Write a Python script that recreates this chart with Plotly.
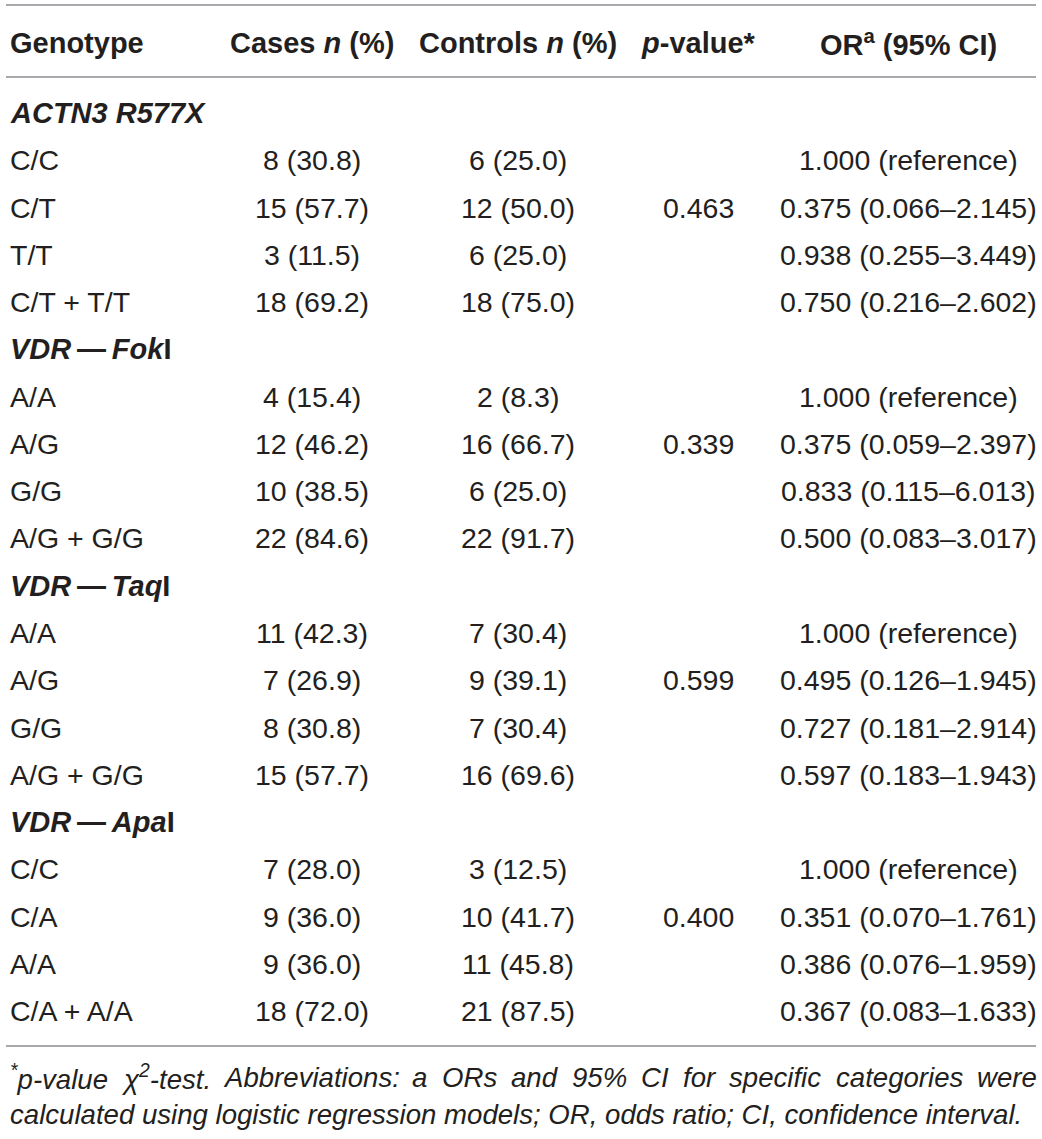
import plotly.graph_objects as go

# ---------------- data ----------------
header = ["Genotype", "Cases <i>n</i> (%)", "Controls <i>n</i> (%)",
          "<i>p</i>-value*", "OR<sup>a</sup> (95% CI)"]

group_labels = ["<b><i>ACTN3 R577X</i></b>",
                "<b><i>VDR</i>\u2009\u2014\u2009<i>Fok</i>I</b>",
                "<b><i>VDR</i>\u2009\u2014\u2009<i>Taq</i>I</b>",
                "<b><i>VDR</i>\u2009\u2014\u2009<i>Apa</i>I</b>"]

genotypes = [["C/C", "C/T", "T/T", "C/T + T/T"],
             ["A/A", "A/G", "G/G", "A/G + G/G"],
             ["A/A", "A/G", "G/G", "A/G + G/G"],
             ["C/C", "C/A", "A/A", "C/A + A/A"]]

cases_n = [[8, 15, 3, 18], [4, 12, 10, 22], [11, 7, 8, 15], [7, 9, 9, 18]]
cases_pct = [[30.8, 57.7, 11.5, 69.2], [15.4, 46.2, 38.5, 84.6],
             [42.3, 26.9, 30.8, 57.7], [28.0, 36.0, 36.0, 72.0]]
controls_n = [[6, 12, 6, 18], [2, 16, 6, 22], [7, 9, 7, 16], [3, 10, 11, 21]]
controls_pct = [[25.0, 50.0, 25.0, 75.0], [8.3, 66.7, 25.0, 91.7],
                [30.4, 39.1, 30.4, 69.6], [12.5, 41.7, 45.8, 87.5]]
p_values = [0.463, 0.339, 0.599, 0.400]
or_est = [[1.000, 0.375, 0.938, 0.750], [1.000, 0.375, 0.833, 0.500],
          [1.000, 0.495, 0.727, 0.597], [1.000, 0.351, 0.386, 0.367]]
ci_low = [[None, 0.066, 0.255, 0.216], [None, 0.059, 0.115, 0.083],
          [None, 0.126, 0.181, 0.183], [None, 0.070, 0.076, 0.083]]
ci_high = [[None, 2.145, 3.449, 2.602], [None, 2.397, 6.013, 3.017],
           [None, 1.945, 2.914, 1.943], [None, 1.761, 1.959, 1.633]]

# footnote words: (normal part, superscript part, trailing normal part)
footnote_line1_words = [("", "*", "p-value"), ("\u03c7", "2", "-test."),
                        ("Abbreviations:", "", ""), ("a", "", ""), ("ORs", "", ""),
                        ("and", "", ""), ("95%", "", ""), ("CI", "", ""),
                        ("for", "", ""), ("specific", "", ""),
                        ("categories", "", ""), ("were", "", "")]
footnote_line2 = "calculated using logistic regression models; OR, odds ratio; CI, confidence interval."

# ---------------- layout constants ----------------
W, H = 1042, 1139
TXT = "#231f20"
LINE = "#a7a9ac"
FONT = "Liberation Sans"
BODY = 28.5
HEAD = 29
FOOT = 27.6

col_x = [8, 312, 518, 698, 908]
col_anchor = ["left", "center", "center", "center", "center"]

header_y = 43
row0_y = 113
row_step = 47.27
foot_y = [1077, 1114]
line_x0, line_x1 = 6, 1036
just_x0, just_x1 = 8, 1035

# Arial / Liberation Sans advance widths (per 1000 em) used to justify line 1
ADV = {' ': 278, 'a': 556, 'b': 556, 'c': 500, 'd': 556, 'e': 556, 'f': 278,
       'g': 556, 'h': 556, 'i': 222, 'j': 222, 'k': 500, 'l': 222, 'm': 833,
       'n': 556, 'o': 556, 'p': 556, 'q': 556, 'r': 333, 's': 500, 't': 278,
       'u': 556, 'v': 500, 'w': 722, 'x': 500, 'y': 500, 'z': 500, 'A': 667,
       'B': 667, 'C': 722, 'I': 278, 'O': 778, 'R': 722, '%': 889, '.': 278,
       ':': 278, '-': 333, '*': 389, '\u03c7': 520}
for d in "0123456789":
    ADV[d] = 556

def text_w(s, size):
    return sum(ADV.get(ch, 556) for ch in s) / 1000.0 * size

fig = go.Figure()
ann = []

def add(x, y, text, anchor, size=BODY, bold=False):
    ann.append(dict(x=x, y=y, xref="x", yref="y", text=text, showarrow=False,
                    xanchor=anchor, yanchor="middle",
                    font=dict(family=FONT, size=size, color=TXT,
                              weight=700 if bold else 400)))

for c, h in enumerate(header):
    add(col_x[c], header_y, "<b>" + h + "</b>", col_anchor[c], HEAD, True)

r = 0
for g in range(len(group_labels)):
    y = row0_y + r * row_step
    add(col_x[0], y, group_labels[g], "left", HEAD, True)
    r += 1
    for i in range(len(genotypes[g])):
        y = row0_y + r * row_step
        add(col_x[0], y, genotypes[g][i], "left")
        add(col_x[1], y, f"{cases_n[g][i]} ({cases_pct[g][i]:.1f})", "center")
        add(col_x[2], y, f"{controls_n[g][i]} ({controls_pct[g][i]:.1f})", "center")
        if i == 1:
            add(col_x[3], y, f"{p_values[g]:.3f}", "center")
        if ci_low[g][i] is None:
            ort = f"{or_est[g][i]:.3f} (reference)"
        else:
            ort = f"{or_est[g][i]:.3f} ({ci_low[g][i]:.3f}\u2013{ci_high[g][i]:.3f})"
        add(col_x[4], y, ort, "center")
        r += 1

# footnote line 1: justified, one annotation per word
widths = [text_w(a, FOOT) + text_w(b, FOOT * 0.7) + text_w(c, FOOT)
          for a, b, c in footnote_line1_words]
gap = (just_x1 - just_x0 - sum(widths)) / (len(widths) - 1)
x = just_x0
for (a, b, c), wdt in zip(footnote_line1_words, widths):
    t = a + (f"<sup>{b}</sup>" if b else "") + c
    add(x, foot_y[0], "<i>" + t + "</i>", "left", FOOT)
    x += wdt + gap
add(just_x0, foot_y[1], "<i>" + footnote_line2 + "</i>", "left", FOOT)

shapes = []
for ly in [5, 77, 1046]:
    shapes.append(dict(type="line", xref="x", yref="y", x0=line_x0, x1=line_x1,
                       y0=ly, y1=ly, line=dict(color=LINE, width=2)))

fig.add_trace(go.Scatter(x=[0, W], y=[0, H], mode="markers",
                         marker=dict(opacity=0), hoverinfo="skip",
                         showlegend=False))

fig.update_layout(width=W, height=H, margin=dict(l=0, r=0, t=0, b=0),
                  paper_bgcolor="white", plot_bgcolor="white",
                  annotations=ann, shapes=shapes,
                  xaxis=dict(range=[0, W], visible=False, fixedrange=True),
                  yaxis=dict(range=[H, 0], visible=False, fixedrange=True),
                  showlegend=False, hovermode=False)

fig.write_html("out.html", config={"displayModeBar": False},
               post_script="document.body.style.margin='0';document.body.style.padding='0';")
